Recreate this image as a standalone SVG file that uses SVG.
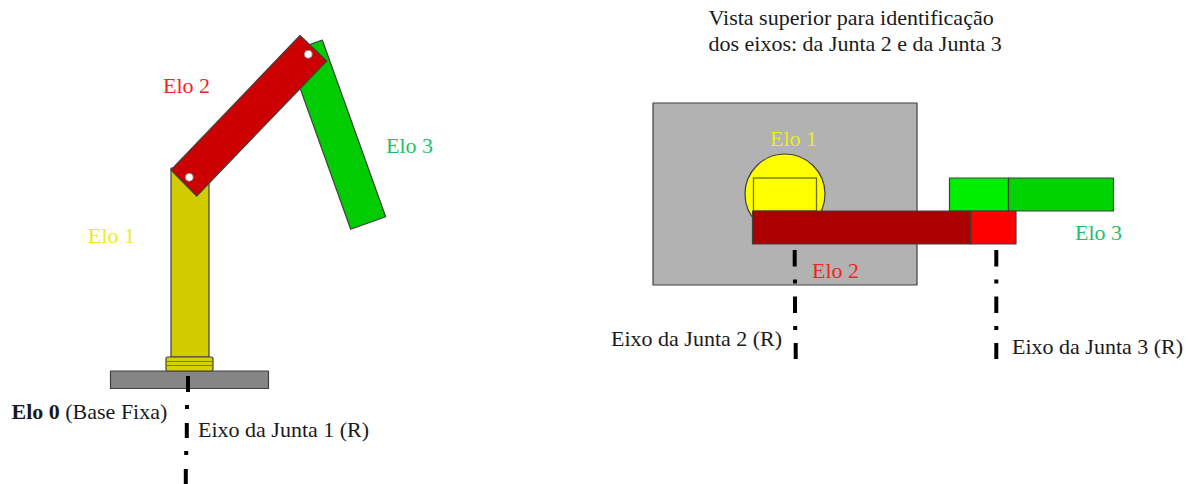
<svg xmlns="http://www.w3.org/2000/svg" width="1191" height="484" viewBox="0 0 1191 484">
<style>
text{font-family:"Liberation Serif","Times New Roman",serif;font-size:22px;fill:#1a1a1a}
.s{stroke:#404040;stroke-width:1.200;stroke-linejoin:round}
.y{fill:#ecec1a}.r{fill:#f52222}.g{fill:#1fbf6a}
.ax{stroke:#000;stroke-width:4;fill:none}
.hole{fill:#fff;stroke:#777;stroke-width:.8}
</style>
<rect width="1191" height="484" fill="#fff"/>
<g id="elo0-base"><rect class="s" x="110.500" y="371" width="158" height="17.500" fill="#858585"/></g>
<g id="elo1-coluna">
<rect class="s" x="171" y="168" width="38" height="189" fill="#d0cc00"/>
<rect class="s" x="166" y="357" width="47" height="14" rx="1.500" fill="#d6d200"/>
<path d="M166.500 361.500H212.500M166.500 365.500H212.500" stroke="#7f7c10" stroke-width="1.200"/>
</g>
<g id="elo3-lateral"><polygon class="s" points="287.300,52.600 322.300,40 385.700,216.700 350.700,229.300" fill="#00cc00"/></g>
<g id="elo2-lateral">
<polygon class="s" points="300,35.500 326.700,61 196.700,196 171,170" fill="#cc0000"/>
<circle class="hole" cx="308.300" cy="54.300" r="4"/>
<circle class="hole" cx="189.300" cy="177.300" r="4"/>
</g>
<g id="vista-base"><rect class="s" x="653" y="103" width="264" height="182" fill="#b2b2b2"/></g>
<g id="vista-elo1">
<circle class="s" cx="785" cy="194" r="40" fill="#ffff00"/>
<rect x="753.500" y="178" width="63" height="33" fill="#ffff00" stroke="#6f6f10" stroke-width="1.300"/>
</g>
<g id="vista-elo3">
<rect class="s" x="949.500" y="178" width="59" height="33" fill="#00ee00"/>
<rect class="s" x="1008.500" y="178" width="105" height="33" fill="#00d400"/>
</g>
<g id="vista-elo2">
<rect class="s" x="752.500" y="211" width="218.500" height="33" fill="#aa0000"/>
<rect class="s" x="971" y="211" width="45" height="33" fill="#ff0000"/>
</g>
<g id="conectores">
<path class="ax" d="M188 376V392M187 405V409M186.800 423V438M186.200 451V455M185.800 469V484"/>
<path class="ax" d="M794.700 250V266.500M795 279.500V283.500M795 296.500V313M795.200 326V330M795.700 343V359"/>
<path class="ax" d="M996.300 250V266.500M996.300 279.500V283.500M996.300 296.500V313M996.300 326V330M996.300 343V359"/>
</g>
<g id="rotulos">
<text class="r" x="163" y="93">Elo 2</text>
<text class="g" x="386" y="153">Elo 3</text>
<text class="y" x="88" y="243">Elo 1</text>
<text x="11.500" y="419"><tspan font-weight="bold">Elo 0</tspan> (Base Fixa)</text>
<text x="198" y="437">Eixo da Junta 1 (R)</text>
<text x="708.500" y="24.500">Vista superior para identificação</text>
<text x="708.500" y="51">dos eixos: da Junta 2 e da Junta 3</text>
<text class="y" x="770" y="146">Elo 1</text>
<text class="r" x="812" y="278">Elo 2</text>
<text class="g" x="1075" y="240">Elo 3</text>
<text x="611" y="346">Eixo da Junta 2 (R)</text>
<text x="1012" y="354">Eixo da Junta 3 (R)</text>
</g>
</svg>
